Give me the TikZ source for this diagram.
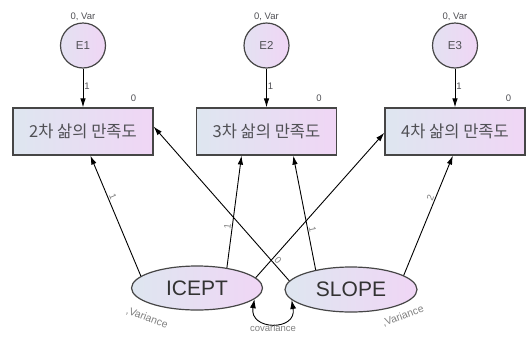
\documentclass[tikz,border=0pt]{standalone}
\usepackage{fontspec}
\setmainfont{Liberation Sans}
\newfontfamily\krfont{Noto Sans CJK KR}
\usetikzlibrary{shapes.geometric,arrows.meta}
\definecolor{fillleft}{RGB}{222,230,240}
\definecolor{fillright}{RGB}{240,214,245}
\definecolor{edge}{RGB}{70,70,70}
\definecolor{txt}{RGB}{80,80,85}

\begin{document}
\begin{tikzpicture}[x=1pt,y=-1pt,
    obsbox/.style={draw=edge,line width=1.2pt,left color=fillleft,right color=fillright,
      minimum width=140pt,minimum height=47pt,inner sep=0pt,text=txt,
      font=\krfont\fontsize{16.5}{18}\selectfont},
    errnode/.style={circle,draw=edge,line width=1.2pt,left color=fillleft!70!fillright,
      right color=fillright,minimum size=45pt,inner sep=0pt,text=txt,
      font=\fontsize{11.5}{13}\selectfont},
    latnode/.style={ellipse,draw=edge,line width=1.2pt,left color=fillleft,right color=fillright,
      inner sep=0pt,text=black!80,font=\fontsize{21}{24}\selectfont},
    reg/.style={-{Latex[length=9pt,width=5.5pt]},line width=0.9pt},
    lbl/.style={font=\fontsize{9.5}{10}\selectfont,text=txt,inner sep=1pt},
    thin/.style={font=\fontsize{9.5}{10}\selectfont,text=gray,inner sep=1pt}]
  \useasboundingbox (0,0) rectangle (527,338);

  \node[obsbox] (box1) at (83,131.5) {2차 삶의 만족도}; \node[obsbox] (box2) at
  (266.5,131.5) {3차 삶의 만족도}; \node[obsbox] (box3) at (455,131.5) {4차 삶의 만족도};
  \node[lbl,anchor=south] at ([xshift=-20pt,yshift=5pt]box1.north east) {0};
  \node[lbl,anchor=south] at ([xshift=-18pt,yshift=5pt]box2.north east) {0};
  \node[lbl,anchor=south] at ([xshift=-17pt,yshift=5pt]box3.north east) {0};

  \node[errnode] (e1) at (83,45.5) {E1}; \node[errnode] (e2) at (266.5,45.5) {E2};
  \node[errnode] (e3) at (455,45.5) {E3};
  \node[lbl,anchor=south] at (e1.north) {0, Var}; \node[lbl,anchor=south] at
  (e2.north) {0, Var}; \node[lbl,anchor=south] at (e3.north) {0, Var};
  \draw[reg] (e1) -- node[lbl,right,pos=0.45] {1} (box1);
  \draw[reg] (e2) -- node[lbl,right,pos=0.45] {1} (box2);
  \draw[reg] (e3) -- node[lbl,right,pos=0.45] {1} (box3);

  \node[latnode,minimum width=131pt,minimum height=44pt] (icept) at (197,288) {ICEPT};
  \node[latnode,minimum width=132pt,minimum height=45pt] (slope) at (351,289.5) {SLOPE};
  \node[thin,font=\fontsize{10.5}{11}\selectfont,rotate=-21] (varicept) at (147,318) {,Variance};
  \node[thin,font=\fontsize{10.5}{11}\selectfont,rotate=21] (varslope) at (403,316) {,Variance};

  \draw[reg] (icept.168) -- node[thin,pos=0.64,sloped,above] {1} (box1.287);
  \draw[reg] (icept.34) -- node[thin,pos=0.36,sloped,above] {1} (box2.224);
  \draw[reg] (icept.10) -- (box3.181);
  \draw[reg] (slope.172) -- node[thin,pos=0.11,sloped,above] {0} (box1.4);
  \draw[reg] (slope.151) -- node[thin,pos=0.35,sloped,above] {1} (box2.318);
  \draw[reg] (slope.15) -- node[thin,pos=0.63,sloped,above] {2} (box3.265);

  \draw[{Latex[length=9pt,width=6pt]}-{Latex[length=9pt,width=6pt]},line width=0.9pt]
  (icept.-11) to[out=-100,in=-80,looseness=2.2] node[thin,below=0pt] (cov) {covariance}
  (slope.190);
\end{tikzpicture}
\end{document}
